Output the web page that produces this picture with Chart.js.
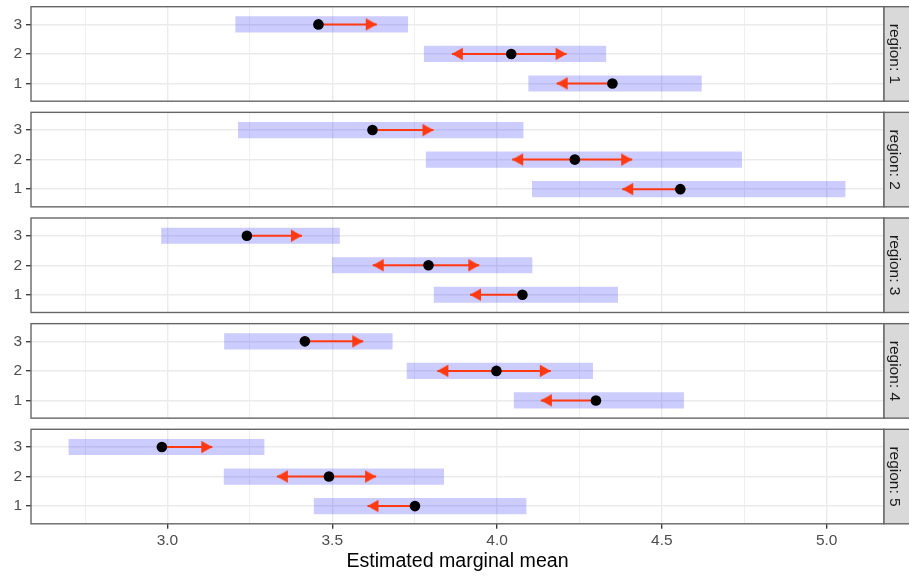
<!DOCTYPE html>
<html><head><meta charset="utf-8">
<script src="https://cdn.jsdelivr.net/npm/chart.js@4.4.1/dist/chart.umd.min.js"></script>
<style>
html,body{margin:0;padding:0;background:#fff;}
#wrap{position:relative;width:909px;height:577px;overflow:hidden;background:#fff;}
#wrap canvas{position:absolute;left:0;top:0;}
</style></head>
<body><div id="wrap"></div>
<script>
// ---- data ----
const regions = ['1','2','3','4','5'];
const levels = ['1','2','3'];
// per region, values for levels 1,2,3
const emmean = [
  [4.350, 4.043, 3.458],
  [4.556, 4.236, 3.622],
  [4.077, 3.792, 3.241],
  [4.300, 3.998, 3.417],
  [3.751, 3.490, 2.983]
];
const lowerCL = [
  [4.096, 3.779, 3.207],
  [4.107, 3.785, 3.215],
  [3.809, 3.500, 2.982],
  [4.052, 3.727, 3.173],
  [3.445, 3.172, 2.701]
];
const upperCL = [
  [4.620, 4.330, 3.729],
  [5.056, 4.742, 4.079],
  [4.366, 4.106, 3.522],
  [4.566, 4.290, 3.682],
  [4.088, 3.838, 3.293]
];
const arrowLeft = [
  [4.181, 3.863, null],
  [4.380, 4.046, null],
  [3.918, 3.623, null],
  [4.133, 3.819, null],
  [3.607, 3.332, null]
];
const arrowRight = [
  [null, 4.211, 3.635],
  [null, 4.410, 3.807],
  [null, 3.946, 3.408],
  [null, 4.163, 3.594],
  [null, 3.633, 3.136]
];
const xMajorTicks = [3.0, 3.5, 4.0, 4.5, 5.0];
const xMinorTicks = [2.75, 3.25, 3.75, 4.25, 4.75];
const xTitle = 'Estimated marginal mean';
const stripPrefix = 'region: ';

// ---- layout / style ----
const W = 909, H = 577;
const PLOT_L = 31, PLOT_R = 884;
const PANEL_TOP0 = 6.7, PANEL_STEP = 105.65, PANEL_H = 94.5;
const X_MIN = 2.586, X_MAX = 5.174;
const FONT = '"Liberation Sans", Arial, Helvetica, sans-serif';
const ARROW = '#FF3A12';
const BORDER = '#666666';

function makeHead() {
  const c = document.createElement('canvas');
  c.width = 24; c.height = 14;
  const g = c.getContext('2d');
  g.fillStyle = ARROW;
  g.beginPath();
  g.moveTo(12, 7);
  g.lineTo(1, 0.8);
  g.lineTo(1, 13.2);
  g.closePath();
  g.fill();
  return c;
}
const HEAD = makeHead();

const isMajor = v => xMajorTicks.some(t => Math.abs(t - v) < 1e-6);

const wrap = document.getElementById('wrap');

regions.forEach((reg, i) => {
  const canvas = document.createElement('canvas');
  canvas.width = W; canvas.height = H;
  canvas.style.width = W + 'px'; canvas.style.height = H + 'px';
  wrap.appendChild(canvas);
  const last = i === regions.length - 1;
  const top = PANEL_TOP0 + i * PANEL_STEP;
  const bottom = top + PANEL_H;

  const datasets = [];
  // points (on top)
  datasets.push({
    type: 'scatter', order: 0,
    data: levels.map((l, j) => ({x: emmean[i][j], y: j + 1})),
    backgroundColor: '#000', borderColor: '#000', borderWidth: 0,
    pointRadius: 5.3, pointHoverRadius: 5.3
  });
  // arrows
  levels.forEach((l, j) => {
    [[arrowLeft[i][j], 180], [arrowRight[i][j], 0]].forEach(([tip, rot]) => {
      if (tip === null) return;
      datasets.push({
        type: 'line', order: 1,
        data: [{x: emmean[i][j], y: j + 1}, {x: tip, y: j + 1}],
        borderColor: ARROW, borderWidth: 2, fill: false, tension: 0,
        pointRadius: [0, 5], pointHoverRadius: [0, 5],
        pointStyle: ['circle', HEAD], pointRotation: [0, rot],
        pointBackgroundColor: ARROW, pointBorderWidth: 0
      });
    });
  });
  // confidence bars (bottom)
  datasets.push({
    type: 'bar', order: 2, indexAxis: 'y',
    data: levels.map((l, j) => ({y: j + 1, x: [lowerCL[i][j], upperCL[i][j]]})),
    backgroundColor: 'rgba(0,0,255,0.2)', borderWidth: 0,
    barThickness: 15.5, grouped: false
  });

  const panelPlugin = {
    id: 'panelDeco' + i,
    afterDatasetsDraw(chart) {
      const {ctx, chartArea: a} = chart;
      ctx.save();
      ctx.strokeStyle = BORDER; ctx.lineWidth = 1.4;
      ctx.strokeRect(a.left, a.top, a.right - a.left, a.bottom - a.top);
      // strip
      ctx.fillStyle = '#D9D9D9';
      ctx.fillRect(a.right, a.top, W - a.right + 4, a.bottom - a.top);
      ctx.strokeRect(a.right, a.top, W - a.right + 6, a.bottom - a.top);
      ctx.translate(894.5, (a.top + a.bottom) / 2);
      ctx.rotate(Math.PI / 2);
      ctx.fillStyle = '#1A1A1A';
      ctx.font = '15.5px ' + FONT;
      ctx.textAlign = 'center'; ctx.textBaseline = 'middle';
      ctx.fillText(stripPrefix + reg, 0, 0);
      ctx.restore();
    }
  };

  new Chart(canvas, {
    type: 'scatter',
    data: {datasets},
    plugins: [panelPlugin],
    options: {
      responsive: false, animation: false, events: [],
      layout: {padding: {top: top, bottom: last ? 0 : H - bottom, left: 0, right: W - PLOT_R}},
      plugins: {legend: {display: false}, tooltip: {enabled: false}},
      scales: {
        x: {
          type: 'linear', position: 'bottom', min: X_MIN, max: X_MAX, offset: false,
          afterBuildTicks: s => { s.ticks = xMinorTicks.concat(xMajorTicks).sort((a, b) => a - b).map(v => ({value: v})); },
          afterFit: s => { s.height = last ? H - bottom : 0; },
          border: {display: false},
          grid: {
            offset: false,
            color: '#EBEBEB',
            lineWidth: c => (c.tick && isMajor(c.tick.value)) ? 1.4 : 0.8,
            drawTicks: last, tickLength: 5, tickWidth: 1.3,
            tickColor: c => (c.tick && isMajor(c.tick.value)) ? '#333333' : 'rgba(0,0,0,0)'
          },
          ticks: {
            display: last, padding: 3, maxRotation: 0, autoSkip: false,
            color: '#4D4D4D', font: {family: FONT, size: 15.5},
            callback: v => isMajor(v) ? Number(v).toFixed(1) : ''
          },
          title: {
            display: last, text: xTitle, color: '#000000',
            font: {family: FONT, size: 19.6}, padding: {top: 0, bottom: 4}
          }
        },
        y: {
          type: 'linear', min: 0.4, max: 3.6, offset: false,
          afterBuildTicks: s => { s.ticks = levels.map((l, j) => ({value: j + 1})); },
          afterFit: s => { s.width = PLOT_L; s.paddingTop = 0; s.paddingBottom = 0; },
          border: {display: false},
          grid: {offset: false, color: '#EBEBEB', lineWidth: 1.4, drawTicks: true, tickLength: 5, tickWidth: 1.3, tickColor: '#333333'},
          ticks: {
            padding: 4, color: '#4D4D4D', font: {family: FONT, size: 15.5},
            callback: v => levels[Math.round(v) - 1]
          }
        }
      }
    }
  });
});
</script>
</body></html>
